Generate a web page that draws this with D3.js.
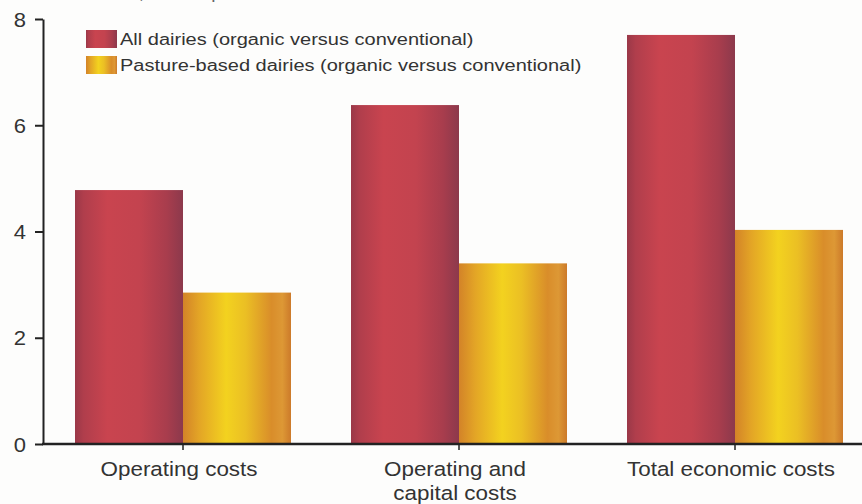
<!DOCTYPE html>
<html>
<head>
<meta charset="utf-8">
<script src="https://cdn.jsdelivr.net/npm/d3@7"></script>
<style>
  html, body { margin: 0; padding: 0; background: #fdfdfc; }
  svg { display: block; font-family: "Liberation Sans", Arial, Helvetica, sans-serif; }
</style>
</head>
<body>
<svg id="chart" width="862" height="504"></svg>
<script>
// ---- data ----
const categories = ["Operating costs", "Operating and\ncapital costs", "Total economic costs"];
const seriesNames = ["All dairies (organic versus conventional)", "Pasture-based dairies (organic versus conventional)"];
const allDairies = [4.78, 6.38, 7.70];
const pastureDairies = [2.85, 3.40, 4.03];
const yTicks = [0, 2, 4, 6, 8];
const axisTitle = "Cost difference, dollars per cwt";

const W = 862, H = 504;
const svg = d3.select("#chart");
const textColor = "#333";
const hStretch = 1.2;

// gradients
const defs = svg.append("defs");
function grad(id, stops) {
  const g = defs.append("linearGradient").attr("id", id)
    .attr("x1", "0%").attr("x2", "100%").attr("y1", "0%").attr("y2", "0%");
  stops.forEach(s => g.append("stop").attr("offset", s[0]).attr("stop-color", s[1]));
}
grad("gRed", [["0%", "#9a3848"], ["8%", "#b03e4c"], ["30%", "#c9444f"], ["60%", "#c3434f"], ["85%", "#a83d4d"], ["100%", "#8c394c"]]);
grad("gYel", [["0%", "#d38328"], ["15%", "#e3a526"], ["40%", "#f3d21f"], ["58%", "#ebbf24"], ["82%", "#d98d2a"], ["92%", "#dd9835"], ["100%", "#cc7a2a"]]);
const fills = ["url(#gRed)", "url(#gYel)"];

// scales
const y = d3.scaleLinear().domain([0, 8]).range([444, 19]);
const x0 = d3.scaleBand().domain(categories).range([45, 873]).paddingInner(60 / 276).paddingOuter(30 / 276);
const x1 = d3.scaleBand().domain([0, 1]).range([0, x0.bandwidth()]).padding(0);

// top (cut-off) title, only its lower edge is visible as in the reference
svg.append("text")
  .attr("transform", `translate(10,-1) scale(${hStretch},1)`)
  .attr("font-size", 16).attr("fill", "#666")
  .text(axisTitle);

// bars
const data = categories.map((c, i) => ({ cat: c, vals: [allDairies[i], pastureDairies[i]] }));
const groups = svg.append("g").selectAll("g").data(data).join("g")
  .attr("transform", d => `translate(${x0(d.cat)},0)`);
groups.selectAll("rect").data(d => d.vals.map((v, k) => ({ v, k }))).join("rect")
  .attr("x", d => x1(d.k))
  .attr("width", x1.bandwidth())
  .attr("y", d => y(d.v))
  .attr("height", d => y(0) - y(d.v))
  .attr("fill", d => fills[d.k]);

// y axis
const yAxis = svg.append("g").attr("transform", "translate(43,0)")
  .call(d3.axisLeft(y).tickValues(yTicks).tickSize(8).tickSizeOuter(0).tickPadding(9));
yAxis.select(".domain").attr("stroke", "#222").attr("stroke-width", 2);
yAxis.selectAll(".tick line").attr("stroke", "#222").attr("stroke-width", 2);
yAxis.selectAll(".tick text")
  .attr("font-size", 20).attr("fill", textColor).attr("font-family", null)
  .attr("x", 0).attr("dy", "0.36em")
  .attr("transform", `translate(-17,0) scale(1.1,1)`);

// x axis
svg.append("line").attr("x1", 42).attr("x2", W).attr("y1", y(0)).attr("y2", y(0))
  .attr("stroke", "#222").attr("stroke-width", 2.5);
const xAxis = svg.append("g").attr("transform", `translate(0,${y(0)})`)
  .call(d3.axisBottom(x0).tickSize(6).tickSizeOuter(0).tickFormat(""));
xAxis.select(".domain").remove();
xAxis.selectAll(".tick line").attr("stroke", "#222").attr("stroke-width", 1.5);

const labels = svg.append("g").selectAll("text").data(categories).join("text")
  .attr("transform", d => `translate(${x0(d) + x0.bandwidth() / 2 - 4},476) scale(1.15,1)`)
  .attr("text-anchor", "middle").attr("font-size", 19.5).attr("fill", textColor);
labels.each(function (d) {
  const lines = d.split("\n");
  d3.select(this).selectAll("tspan").data(lines).join("tspan")
    .attr("x", 0).attr("dy", (l, i) => i === 0 ? 0 : 24).text(l => l);
});

// legend
const legend = svg.append("g");
seriesNames.forEach((name, i) => {
  const ly = 30 + i * 26;
  legend.append("rect").attr("x", 86).attr("y", ly).attr("width", 31).attr("height", 18)
    .attr("fill", fills[i]);
  legend.append("text")
    .attr("transform", `translate(120,${ly + 15}) scale(1.25,1)`)
    .attr("font-size", 16).attr("fill", textColor).text(name);
});
</script>
</body>
</html>
